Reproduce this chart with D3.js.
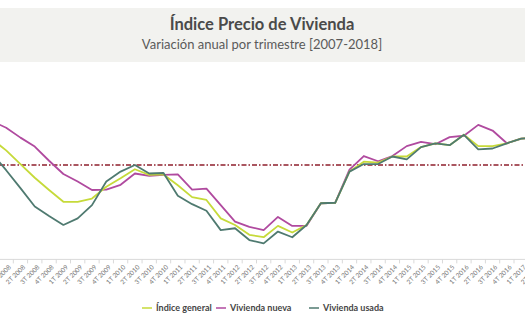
<!DOCTYPE html>
<html>
<head>
<meta charset="utf-8">
<script src="https://cdn.jsdelivr.net/npm/d3@7"></script>
<style>
  html, body { margin: 0; padding: 0; background: #ffffff; }
  svg { display: block; }
  text { font-family: Lato, "Open Sans", sans-serif; }
</style>
</head>
<body>
<svg id="chart" width="525" height="328"></svg>
<script>
// ---- data (annual variation %, by quarter) ----
const quarters = [
  "4T 2007",
  "1T 2008","2T 2008","3T 2008","4T 2008",
  "1T 2009","2T 2009","3T 2009","4T 2009",
  "1T 2010","2T 2010","3T 2010","4T 2010",
  "1T 2011","2T 2011","3T 2011","4T 2011",
  "1T 2012","2T 2012","3T 2012","4T 2012",
  "1T 2013","2T 2013","3T 2013","4T 2013",
  "1T 2014","2T 2014","3T 2014","4T 2014",
  "1T 2015","2T 2015","3T 2015","4T 2015",
  "1T 2016","2T 2016","3T 2016","4T 2016",
  "1T 2017","2T 2017"
];
const indiceGeneral = [
  5.5,
  3.1, 0.2, -2.7, -5.3,
  -7.8, -7.8, -7.1, -4.6,
  -2.8, -0.9, -2.1, -2.0,
  -4.3, -6.8, -7.4, -11.3,
  -12.7, -14.8, -15.3, -12.9,
  -14.3, -12.7, -8.1, -8.0,
  -1.4, 0.7, 0.5, 1.8,
  1.8, 3.8, 4.6, 4.2,
  6.4, 4.0, 4.0, 4.6,
  5.6, 5.8
];
const viviendaNueva = [
  9.3,
  7.9, 5.8, 3.9, 0.9,
  -1.9, -3.5, -5.3, -5.2,
  -4.2, -1.8, -2.3, -2.1,
  -2.0, -5.2, -5.0, -8.5,
  -12.0, -13.1, -13.8, -11.0,
  -12.9, -12.9, -8.1, -8.0,
  -1.0, 1.9, 0.8, 1.9,
  4.0, 4.9, 4.4, 5.9,
  6.2, 8.5, 7.3, 4.6,
  5.6, 5.8
];
const viviendaUsada = [
  2.5,
  -1.1, -4.9, -8.8, -10.8,
  -12.7, -11.3, -8.5, -3.5,
  -1.4, 0.0, -1.8, -1.7,
  -6.5, -8.3, -9.7, -13.8,
  -13.4, -15.9, -16.6, -14.1,
  -15.3, -12.7, -8.1, -8.0,
  -1.4, 0.2, 0.2, 1.8,
  1.2, 3.8, 4.6, 4.2,
  6.4, 3.3, 3.5, 4.6,
  5.6, 5.8
];
const seriesNames = ["Índice general", "Vivienda nueva", "Vivienda usada"];
const seriesColors = ["#c6da3a", "#b04a9f", "#4f7a70"];
const title = "Índice Precio de Vivienda";
const subtitle = "Variación anual por trimestre [2007-2018]";

// ---- layout ----
const W = 525, H = 328;
const svg = d3.select("#chart");

// header band
svg.append("rect").attr("x", 0).attr("y", 8).attr("width", W).attr("height", 54)
  .attr("fill", "#f2f2ef");
svg.append("text").attr("x", 262).attr("y", 30).attr("text-anchor", "middle")
  .attr("font-size", 16.5).attr("font-weight", 700).attr("fill", "#4a4a4a").text(title);
svg.append("text").attr("x", 262).attr("y", 49).attr("text-anchor", "middle")
  .attr("font-size", 13).attr("fill", "#5a5a5a").text(subtitle);

// scales
const x = d3.scaleBand().domain(quarters).range([-15.31, -15.31 + 14.306 * quarters.length]).padding(0);
const y = d3.scaleLinear().domain([-20, 10]).range([259.4, 117.8]);
const cx = q => x(q) + x.bandwidth() / 2;

// x axis (ticks between categories)
const axisG = svg.append("g").attr("transform", `translate(0,${y(-20)})`);
axisG.append("line").attr("x1", 0).attr("x2", W).attr("y1", 0).attr("y2", 0)
  .attr("stroke", "#d9d9d9").attr("stroke-width", 1);
axisG.selectAll("line.tick").data(quarters).join("line").attr("class", "tick")
  .attr("x1", d => x(d)).attr("x2", d => x(d)).attr("y1", 0).attr("y2", 4)
  .attr("stroke", "#d9d9d9").attr("stroke-width", 1);
axisG.selectAll("text.lbl").data(quarters).join("text").attr("class", "lbl")
  .attr("transform", d => `translate(${cx(d) + 2},5) rotate(-45)`)
  .attr("text-anchor", "end").attr("dy", "0.7em")
  .attr("font-size", 6.5).attr("fill", "#777").text(d => d);

// zero reference line (dash-dot)
svg.append("line").attr("x1", 0).attr("x2", W).attr("y1", y(0)).attr("y2", y(0))
  .attr("stroke", "#8e1f2c").attr("stroke-width", 1.3).attr("stroke-dasharray", "5,2,1.5,2");

// lines
const allSeries = [indiceGeneral, viviendaNueva, viviendaUsada];
const line = d3.line().x((d, i) => cx(quarters[i])).y(d => y(d));
// draw order: nueva, general, usada
[1, 0, 2].forEach(s => {
  svg.append("path").datum(allSeries[s]).attr("d", line)
    .attr("fill", "none").attr("stroke", seriesColors[s]).attr("stroke-width", 1.8)
    .attr("stroke-linejoin", "round");
});

// legend
const legendX = [142, 216, 309];
const lg = svg.append("g");
seriesNames.forEach((n, i) => {
  lg.append("line").attr("x1", legendX[i]).attr("x2", legendX[i] + 10)
    .attr("y1", 308).attr("y2", 308).attr("stroke", seriesColors[i]).attr("stroke-width", 1.5);
  lg.append("text").attr("x", legendX[i] + 14).attr("y", 311)
    .attr("font-size", 9).attr("font-weight", 700).attr("fill", "#454545").text(n);
});
</script>
</body>
</html>
